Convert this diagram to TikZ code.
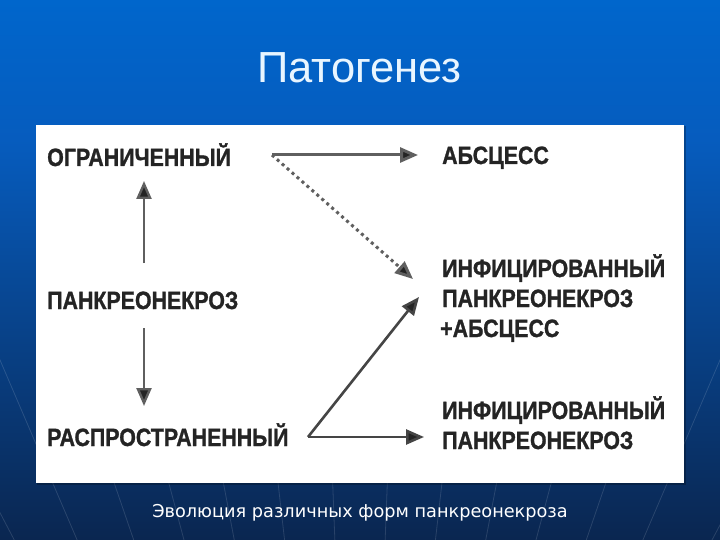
\documentclass[tikz,border=0pt]{standalone}
\usepackage{fontspec}
\usepackage{graphicx}
\setmainfont{Liberation Sans}
\newfontfamily\capfont{DejaVu Sans}
\newfontfamily\lblfont{Liberation Sans}[BoldFeatures={FakeBold=1.2}]
\usetikzlibrary{arrows.meta}
\definecolor{bgtop}{RGB}{0,102,204}
\definecolor{bgmid}{RGB}{6,92,190}
\definecolor{bgbot}{RGB}{10,38,80}
\definecolor{titlecol}{RGB}{232,245,255}
\definecolor{inkcol}{RGB}{36,36,36}
\definecolor{arrowgray}{RGB}{95,95,95}
\newcommand{\mycond}[1]{\scalebox{0.855}[1]{#1}}
\tikzset{
  lbl/.style={anchor=base west, inner sep=0pt, text=inkcol,
    font=\lblfont\bfseries\fontsize{25}{25}\selectfont},
  conn/.style={draw=arrowgray, line width=3pt,
    -{Triangle[length=18pt,width=15pt,fill=inkcol]}},
  dotconn/.style={draw=arrowgray, line width=3pt, dash pattern=on 3pt off 3.6pt,
    -{Triangle[length=18pt,width=15pt,fill=inkcol,sep=0pt]}},
  ray/.style={draw=white, opacity=0.13, line width=0.8pt}
}
\begin{document}
\begin{tikzpicture}[x=1pt,y=-1pt]
\useasboundingbox (0,0) rectangle (720,540);
% background
\shade[top color=bgtop, bottom color=bgmid] (0,0) rectangle (720,140);
\shade[top color=bgmid, bottom color=bgbot] (0,140) rectangle (720,540);
\begin{scope}
\clip (0,300) rectangle (720,540);
\foreach \xx in {-420,-300,-190,-90,0,80,160,240,320,400,480,560,640,720,810,920,1040,1160}
  \draw[ray] (360,1200) -- (\xx,150);
\end{scope}
% title
\node[inner sep=0pt, anchor=base, text=titlecol,
  font=\fontsize{43.5}{43.5}\selectfont] (title) at (359.5,83) {Патогенез};
% panel
\fill[black, opacity=0.25] (37,126) rectangle (686,485);
\fill[white] (36,125) rectangle (684,483);
% labels left
\node[lbl] (ogr) at (47,166) {\mycond{ОГРАНИЧЕННЫЙ}};
\node[lbl] (pank) at (47,309) {\mycond{ПАНКРЕОНЕКРОЗ}};
\node[lbl] (rasp) at (47,446) {\mycond{РАСПРОСТРАНЕННЫЙ}};
% labels right
\node[lbl] (abs) at (442,164) {\mycond{АБСЦЕСС}};
\node[lbl] (infa) at (442,277) {\mycond{ИНФИЦИРОВАННЫЙ}};
\node[lbl] (infb) at (442,307) {\mycond{ПАНКРЕОНЕКРОЗ}};
\node[lbl] (infc) at (440,337) {\mycond{+АБСЦЕСС}};
\node[lbl] (inf2a) at (442,419) {\mycond{ИНФИЦИРОВАННЫЙ}};
\node[lbl] (inf2b) at (442,449) {\mycond{ПАНКРЕОНЕКРОЗ}};
% connector points
\coordinate (ogrE) at (272,155);
\coordinate (absW) at (418,155);
\coordinate (infW) at (413,279);
\coordinate (upS) at (144,263);
\coordinate (upN) at (144,181);
\coordinate (dnN) at (144,328);
\coordinate (dnS) at (144,406);
\coordinate (vtx) at (308,437);
\coordinate (infcW) at (419,297);
\coordinate (inf2W) at (424,437);
% connectors
\draw[conn] (ogrE) -- (absW);
\draw[dotconn] (ogrE) -- (infW);
\draw[conn, line width=2.4pt] (upS) -- (upN);
\draw[conn, line width=2.4pt] (dnN) -- (dnS);
\draw[conn, draw=inkcol!85, line width=2.6pt] (vtx) -- (infcW);
\draw[conn, draw=inkcol!85, line width=2.6pt] (vtx) -- (inf2W);
% caption
\node[inner sep=0pt, anchor=base, text=white,
  font=\capfont\fontsize{17.7}{17.7}\selectfont] (caption) at (360,517)
  {Эволюция различных форм панкреонекроза};
\end{tikzpicture}
\end{document}
